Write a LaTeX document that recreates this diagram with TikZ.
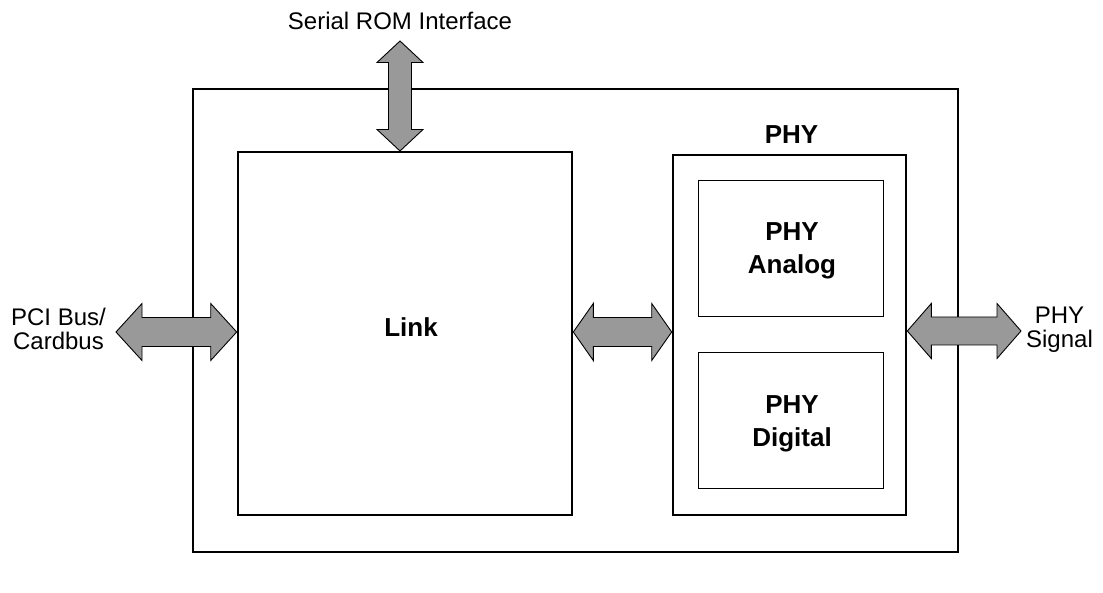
\documentclass[tikz,border=0pt]{standalone}
\usepackage{fontspec}
\setmainfont{Liberation Sans}
\usetikzlibrary{calc}

% Fat two-headed block arrow between two points:
% #1 from, #2 to, #3 shaft half-width, #4 head half-width, #5 head length
\newcommand\biarrow[5]{%
  \filldraw[fatarrow] (#1)
    -- ($(#1)!#5!(#2)!#4!90:(#2)$)
    -- ($(#1)!#5!(#2)!#3!90:(#2)$)
    -- ($(#2)!#5!(#1)!#3!-90:(#1)$)
    -- ($(#2)!#5!(#1)!#4!-90:(#1)$)
    -- (#2)
    -- ($(#2)!#5!(#1)!#4!90:(#1)$)
    -- ($(#2)!#5!(#1)!#3!90:(#1)$)
    -- ($(#1)!#5!(#2)!#3!-90:(#2)$)
    -- ($(#1)!#5!(#2)!#4!-90:(#2)$)
    -- cycle;}

\begin{document}
\begin{tikzpicture}[x=1pt,y=-1pt,
  heavybox/.style={draw, line width=2.6pt, inner sep=0pt},
  lightbox/.style={draw, line width=0.9pt, inner sep=0pt},
  fatarrow/.style={draw=black, fill=black!40, line width=0.9pt, line join=miter},
  label/.style={font=\fontsize{24}{24}\selectfont, align=center, inner sep=0pt},
  title/.style={font=\fontsize{26}{33}\selectfont\bfseries, align=center, inner sep=0pt}]

\useasboundingbox (0,0) rectangle (1103,593);

% chip outline and the two main blocks
\node[heavybox, minimum width=765pt, minimum height=463pt] (chip) at (575.5,320.5) {};
\node[heavybox, minimum width=334pt, minimum height=363pt] (link) at (405,333.5) {};
\node[title, anchor=base] (linktxt) at (411,337) {Link};
\node[heavybox, minimum width=233pt, minimum height=360pt] (phy) at (789.5,335) {};
\node[title, anchor=base] (phytxt) at (791.5,144) {PHY};

% PHY sub-blocks
\node[lightbox, minimum width=185pt, minimum height=136pt] (analog) at (790.5,248) {};
\node[title] (analogtxt) at (792,251) {PHY\\Analog};
\node[lightbox, minimum width=185pt, minimum height=136pt] (digital) at (790.5,420) {};
\node[title] (digitaltxt) at (792,424) {PHY\\Digital};

% external interface labels
\node[label, anchor=base] (rom) at (400,29.5) {Serial ROM Interface};
\node[label] (pci) at (58.5,329) {PCI Bus/\\Cardbus};
\node[label] (physig) at (1059.5,330) {PHY\\Signal};

% arrow end points outside the blocks
\coordinate (pcitip) at (116,332);
\coordinate (romtip) at (400,41);
\coordinate (romend) at (400,151);
\coordinate (sigtip) at (1021,331);

% block arrows
\biarrow{pcitip}{link.west |- pcitip}{14.5pt}{28.5pt}{26pt}
\biarrow{romtip}{romend}{11.5pt}{23pt}{21.5pt}
\biarrow{link.east |- pcitip}{phy.west |- pcitip}{14.5pt}{28.5pt}{20pt}
\biarrow{phy.east |- sigtip}{sigtip}{14pt}{27.5pt}{24pt}
\end{tikzpicture}
\end{document}
